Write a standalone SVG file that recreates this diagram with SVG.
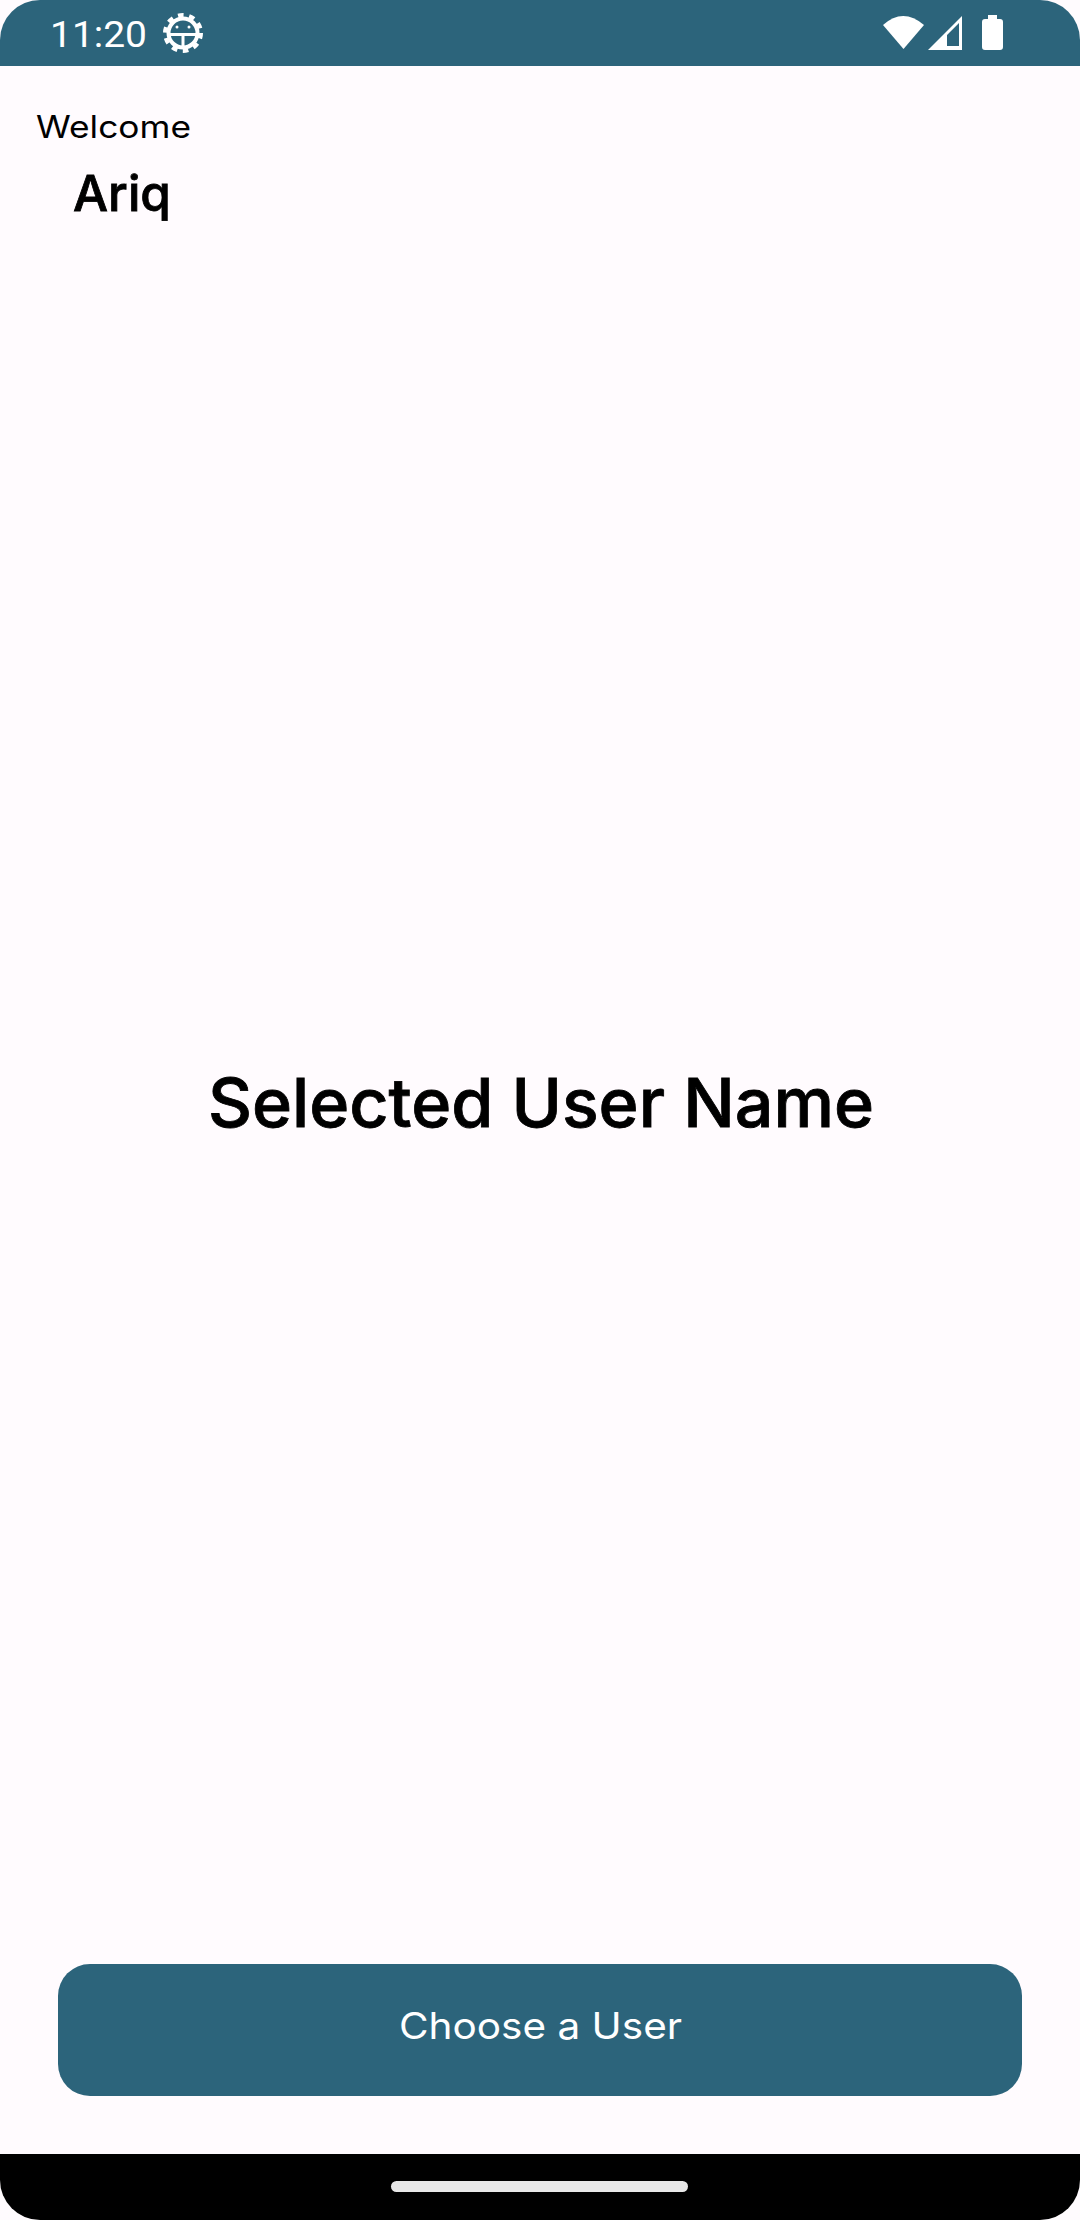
<svg xmlns="http://www.w3.org/2000/svg" width="1080" height="2220" viewBox="0 0 1080 2220">
<style>
.p{font-family:"Inter","Liberation Sans",sans-serif;fill:#000}
.h{font-weight:500;stroke:#000;stroke-width:.8}
.s{font-family:"Roboto","Liberation Sans",sans-serif;fill:#fff}
.bar{fill:#2c647b}
.w{fill:#fff}
</style>
<rect width="1080" height="2220" fill="#fffbfe"/>
<g id="status-bar">
<path class="bar" d="M0 66V40A40 40 0 0 1 40 0H1040A40 40 0 0 1 1080 40V66Z"/>
<text class="s" x="50" y="47" font-size="37" textLength="97" lengthAdjust="spacingAndGlyphs">11:20</text>
<g id="debug-icon" fill="none" stroke="#fff">
<circle cx="183" cy="33" r="14.500" stroke-width="4"/>
<circle cx="183" cy="33" r="17.500" stroke-width="5" stroke-dasharray="5.500 5.500"/>
<path d="M169 34.500H197M183 34.500V48" stroke-width="3"/>
<circle cx="177" cy="27" r="1.500" fill="#fff" stroke="none"/>
<circle cx="189" cy="27" r="1.500" fill="#fff" stroke="none"/>
</g>
<path class="w" d="M883 25Q903 7 924 25L903.500 49Z"/>
<path class="w" fill-rule="evenodd" d="M928 50L962 16V50ZM947 35V46H959V23Z"/>
<path class="w" d="M988 15H997V19H1000Q1003 19 1003 22V47Q1003 50 1000 50H985Q982 50 982 47V22Q982 19 985 19H988Z"/>
</g>
<g id="welcome"><text class="p" x="36" y="138" font-size="31" font-weight="400" textLength="155" lengthAdjust="spacingAndGlyphs">Welcome</text></g>
<g id="user-name"><text class="p h" x="73" y="211" font-size="50" textLength="98" lengthAdjust="spacingAndGlyphs">Ariq</text></g>
<g id="selected-user"><text class="p h" x="208" y="1127" font-size="67" textLength="666" lengthAdjust="spacingAndGlyphs">Selected User Name</text></g>
<g id="choose-button">
<rect class="bar" x="58" y="1964" width="964" height="132" rx="32"/>
<text class="p" x="399" y="2039" font-size="37" style="fill:#fff" font-weight="400" textLength="283" lengthAdjust="spacingAndGlyphs">Choose a User</text>
</g>
<g id="nav-bar">
<path d="M0 2154H1080V2180A40 40 0 0 1 1040 2220H40A40 40 0 0 1 0 2180Z" fill="#000"/>
<rect x="391" y="2181" width="297" height="11" rx="5.500" fill="#e8e8e8"/>
</g>
</svg>
